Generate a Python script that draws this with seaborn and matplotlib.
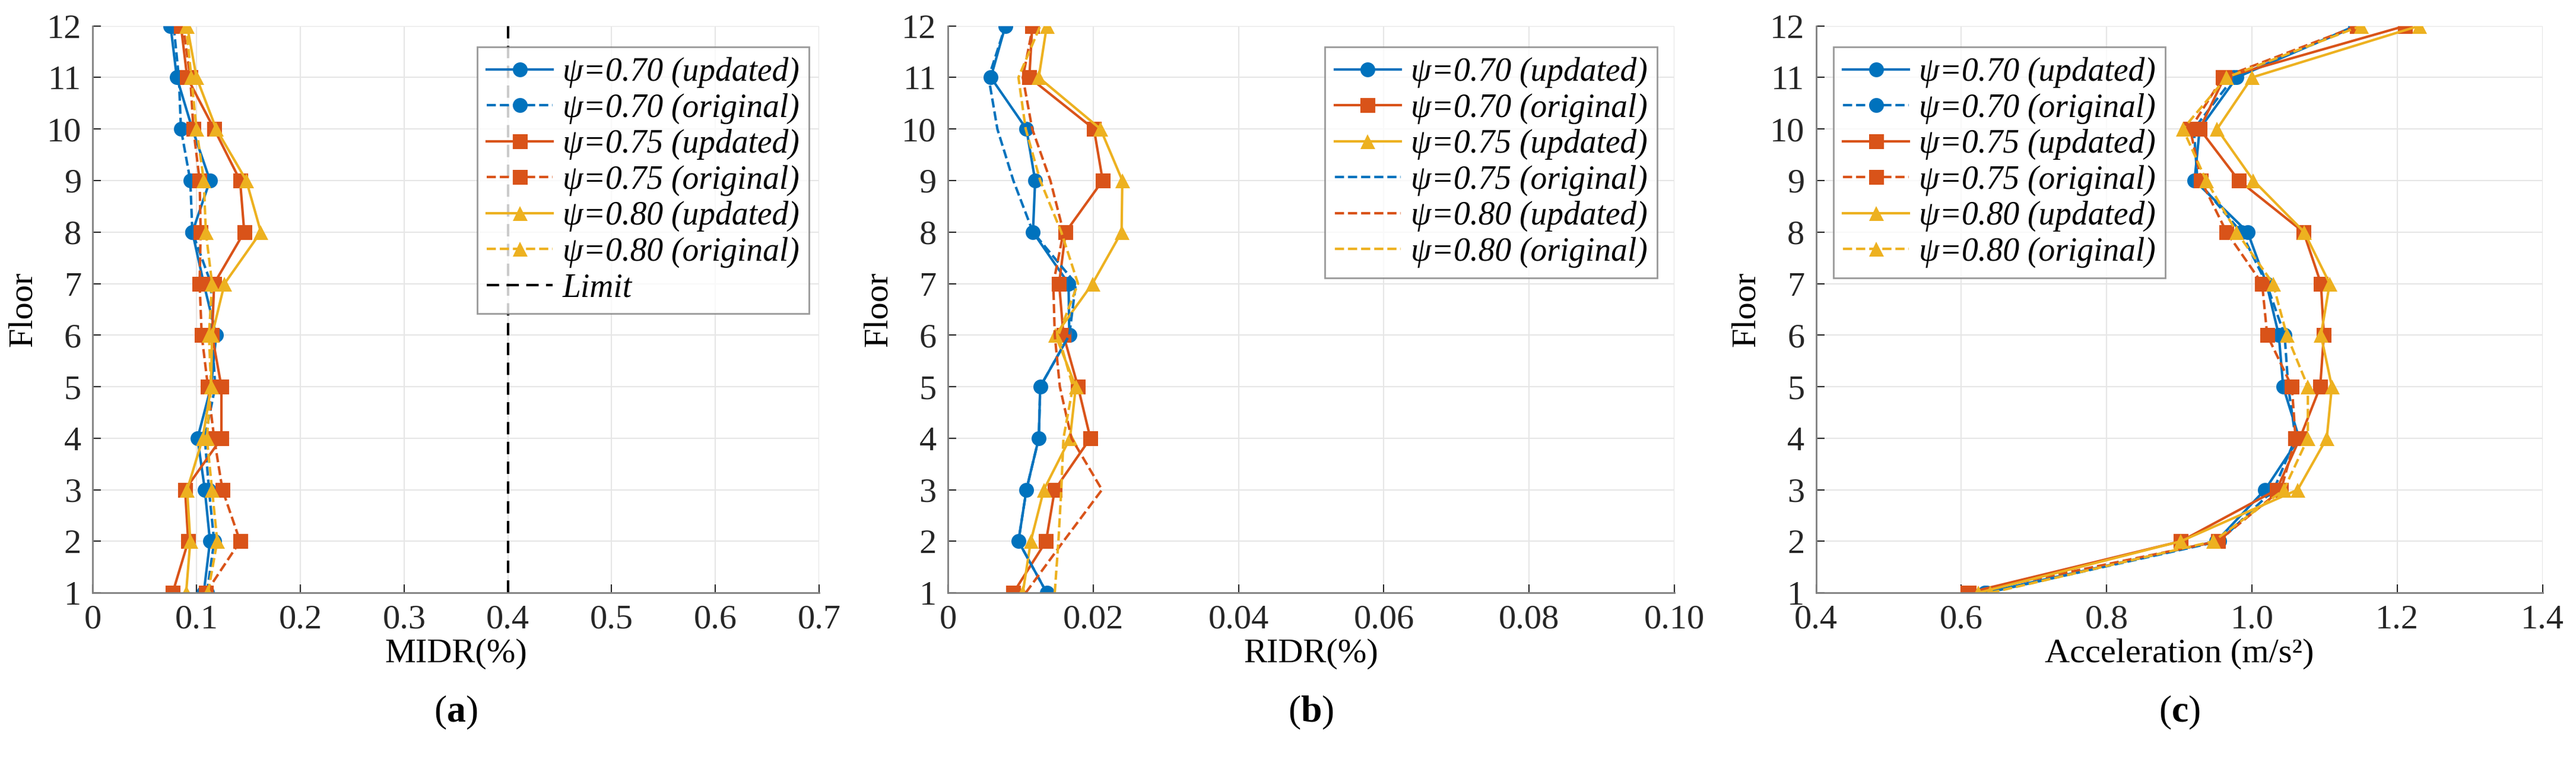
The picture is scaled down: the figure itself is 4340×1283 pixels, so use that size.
import numpy as np
import pandas as pd
import matplotlib
matplotlib.use("Agg")
import matplotlib.pyplot as plt
import seaborn as sns

plt.rcParams['font.family'] = 'Liberation Serif'
plt.rcParams['mathtext.fontset'] = 'custom'
plt.rcParams['mathtext.rm'] = 'Liberation Serif'
plt.rcParams['mathtext.bf'] = 'Liberation Serif:bold'

floors = list(range(1, 13))

# Panel (a) MIDR (%), floors 1..12
midr_070_upd = [0.107, 0.113, 0.108, 0.101, 0.114, 0.119, 0.107, 0.096, 0.113, 0.096, 0.081, 0.075]
midr_070_org = [0.110, 0.117, 0.112, 0.108, 0.118, 0.115, 0.114, 0.096, 0.094, 0.085, 0.083, 0.078]
midr_075_upd = [0.077, 0.092, 0.089, 0.124, 0.124, 0.115, 0.117, 0.146, 0.142, 0.117, 0.091, 0.085]
midr_075_org = [0.109, 0.142, 0.125, 0.117, 0.111, 0.105, 0.103, 0.104, 0.103, 0.097, 0.094, 0.087]
midr_080_upd = [0.090, 0.094, 0.091, 0.106, 0.114, 0.115, 0.127, 0.162, 0.148, 0.119, 0.100, 0.091]
midr_080_org = [0.111, 0.120, 0.115, 0.110, 0.114, 0.112, 0.115, 0.109, 0.107, 0.100, 0.095, 0.090]
midr_limit = 0.4

# Panel (b) RIDR (%)
ridr_blue_solid = [0.0136, 0.0097, 0.0108, 0.0125, 0.0127, 0.0167, 0.0166, 0.0117, 0.0120, 0.0108, 0.0059, 0.0079]
ridr_orange_solid = [0.0090, 0.0135, 0.0147, 0.0196, 0.0179, 0.0159, 0.0153, 0.0162, 0.0213, 0.0201, 0.0112, 0.0116]
ridr_yellow_solid = [0.0103, 0.0114, 0.0132, 0.0168, 0.0176, 0.0148, 0.0199, 0.0239, 0.0240, 0.0210, 0.0125, 0.0136]
ridr_blue_dash = [0.0136, 0.0097, 0.0108, 0.0125, 0.0127, 0.0167, 0.0176, 0.0117, 0.0090, 0.0068, 0.0056, 0.0079]
ridr_orange_dash = [0.0107, 0.0159, 0.0212, 0.0170, 0.0154, 0.0147, 0.0145, 0.0159, 0.0141, 0.0116, 0.0103, 0.0117]
ridr_yellow_dash = [0.0147, 0.0152, 0.0156, 0.0159, 0.0172, 0.0152, 0.0179, 0.0156, 0.0127, 0.0107, 0.0097, 0.0127]

# Panel (c) Acceleration (m/s²)
acc_070_upd = [0.632, 0.951, 1.018, 1.065, 1.043, 1.037, 1.020, 0.994, 0.921, 0.928, 0.979, 1.142]
acc_070_org = [0.635, 0.955, 1.030, 1.060, 1.050, 1.045, 1.020, 0.985, 0.925, 0.920, 0.975, 1.145]
acc_075_upd = [0.609, 0.902, 1.034, 1.066, 1.094, 1.099, 1.095, 1.071, 0.982, 0.928, 0.962, 1.211]
acc_075_org = [0.610, 0.953, 1.040, 1.060, 1.055, 1.021, 1.014, 0.965, 0.930, 0.915, 0.960, 1.145]
acc_080_upd = [0.623, 0.902, 1.063, 1.103, 1.110, 1.095, 1.107, 1.072, 1.002, 0.952, 1.000, 1.230]
acc_080_org = [0.640, 0.947, 1.044, 1.077, 1.077, 1.048, 1.029, 0.979, 0.937, 0.905, 0.965, 1.150]

labels_std = ["ψ=0.70 (updated)", "ψ=0.70 (original)", "ψ=0.75 (updated)",
              "ψ=0.75 (original)", "ψ=0.80 (updated)", "ψ=0.80 (original)"]

BLUE, ORANGE, YELLOW = "#0072BD", "#D95319", "#EDB120"
FS = 42

fig = plt.figure(figsize=(43.4, 12.83), dpi=100)
lefts = [0.036, 0.368, 0.705]
axes = [fig.add_axes([l, 0.222, 0.282, 0.744]) for l in lefts]

def draw(ax, vals, color, ls, marker, label):
    df = pd.DataFrame({"v": vals, "floor": floors})
    sns.lineplot(data=df, x="v", y="floor", orient="y", sort=False, ax=ax,
                 color=color, linestyle=ls, marker=marker, markersize=18 if marker else 0,
                 markeredgewidth=0, linewidth=3, label=label, estimator=None)

styles = [(BLUE, '-', 'o'), (BLUE, '--', 'o'), (ORANGE, '-', 's'),
          (ORANGE, '--', 's'), (YELLOW, '-', '^'), (YELLOW, '--', '^')]

ax = axes[0]
for vals, st, lab in zip([midr_070_upd, midr_070_org, midr_075_upd, midr_075_org, midr_080_upd, midr_080_org], styles, labels_std):
    draw(ax, vals, st[0], st[1], st[2], lab)
ax.axvline(midr_limit, color='black', linestyle='--', linewidth=3, label="Limit", dashes=(5, 3))
ax.set_xlim(0, 0.7)
ax.set_xticks(np.arange(0, 0.71, 0.1))
ax.set_xticklabels(["0", "0.1", "0.2", "0.3", "0.4", "0.5", "0.6", "0.7"])
ax.set_xlabel("MIDR(%)")
leg_loc = [("upper right", (1.0, 0.98)), ("upper right", (0.99, 0.98)), ("upper left", (0.01, 0.98))]

ax = axes[1]
b_styles = [(BLUE, '-', 'o'), (ORANGE, '-', 's'), (YELLOW, '-', '^'),
            (BLUE, '--', None), (ORANGE, '--', None), (YELLOW, '--', None)]
for vals, st, lab in zip([ridr_blue_solid, ridr_orange_solid, ridr_yellow_solid, ridr_blue_dash, ridr_orange_dash, ridr_yellow_dash], b_styles, labels_std):
    draw(ax, vals, st[0], st[1], st[2], lab)
ax.set_xlim(0, 0.1)
ax.set_xticks(np.arange(0, 0.101, 0.02))
ax.set_xticklabels(["0", "0.02", "0.04", "0.06", "0.08", "0.10"])
ax.set_xlabel("RIDR(%)")

ax = axes[2]
for vals, st, lab in zip([acc_070_upd, acc_070_org, acc_075_upd, acc_075_org, acc_080_upd, acc_080_org], styles, labels_std):
    draw(ax, vals, st[0], st[1], st[2], lab)
ax.set_xlim(0.4, 1.4)
ax.set_xticks(np.arange(0.4, 1.41, 0.2))
ax.set_xticklabels(["0.4", "0.6", "0.8", "1.0", "1.2", "1.4"])
ax.set_xlabel("Acceleration (m/s²)")

for ax, (loc, anchor), cap in zip(axes, leg_loc, ["a", "b", "c"]):
    ax.set_ylim(1, 12)
    ax.set_yticks(floors)
    ax.set_ylabel("Floor", labelpad=10)
    ax.grid(True, color="#e6e6e6", linewidth=1.5)
    ax.set_axisbelow(True)
    ax.tick_params(direction='in', labelsize=FS, length=10, width=1.5, colors='#262626', pad=14)
    ax.xaxis.label.set_size(FS)
    ax.yaxis.label.set_size(FS)
    for side in ['top', 'right']:
        ax.spines[side].set_visible(False)
    for side in ['left', 'bottom']:
        ax.spines[side].set_color('#808080')
        ax.spines[side].set_linewidth(2)
    leg = ax.legend(loc=loc, bbox_to_anchor=anchor, prop={'family': 'Liberation Serif', 'style': 'italic', 'size': 40},
                    frameon=True, fancybox=False, edgecolor='#808080', handlelength=2.0,
                    handletextpad=0.3, borderpad=0.3, labelspacing=0.15, borderaxespad=0.3)
    leg.get_frame().set_linewidth(2)
    pos = ax.get_position()
    fig.text(pos.x0 + pos.width / 2, 0.065, "($\\mathbf{%s}$)" % cap, ha='center', va='center', fontsize=46)

fig.savefig("out.png", dpi=100, facecolor='white')
